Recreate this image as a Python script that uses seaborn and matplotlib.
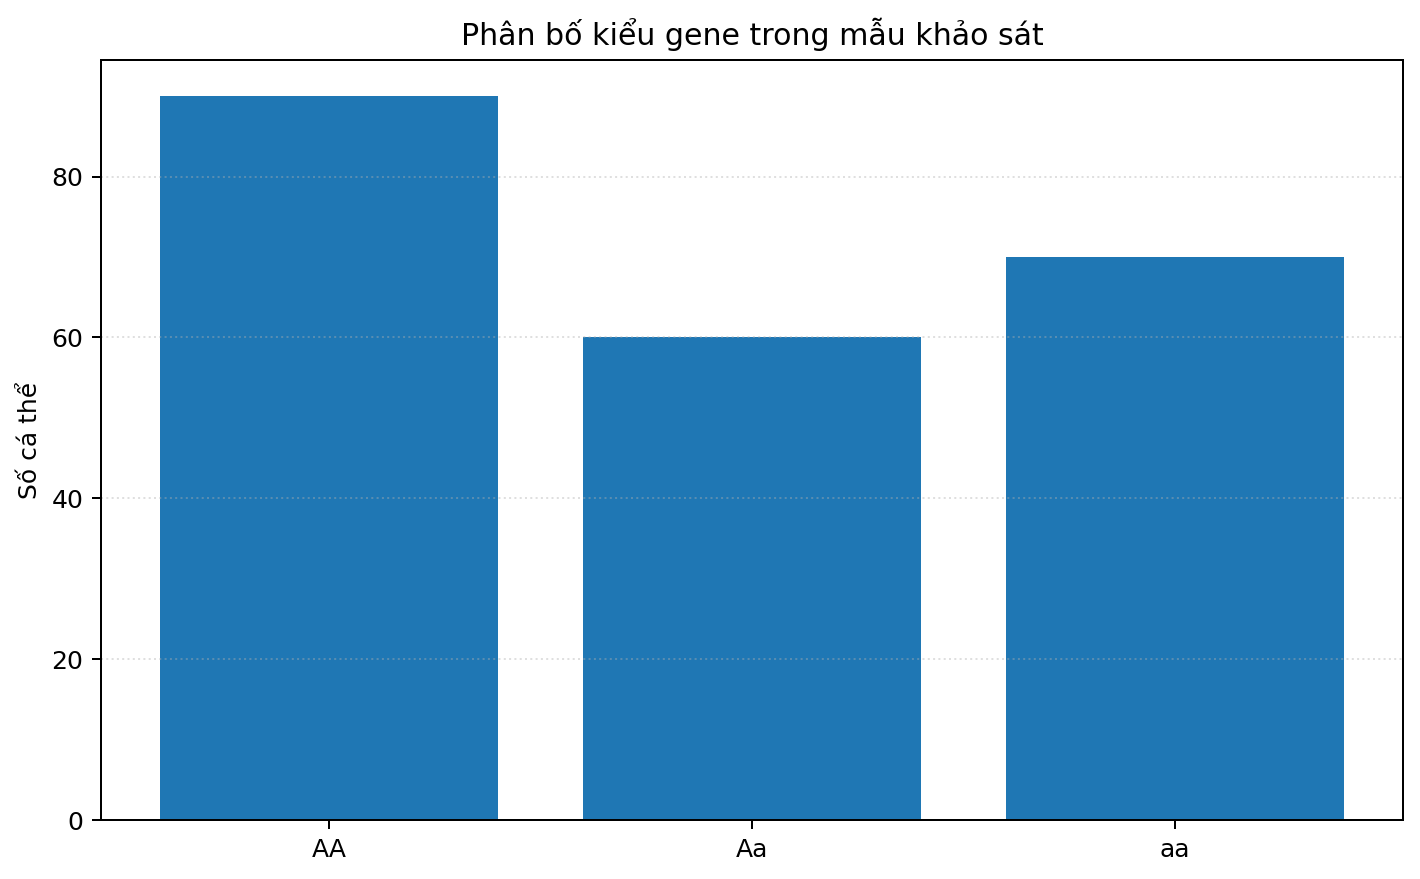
import matplotlib.pyplot as plt
import seaborn as sns
import pandas as pd

genotypes = ['AA', 'Aa', 'aa']
counts = [90, 60, 70]

df = pd.DataFrame({'genotype': genotypes, 'count': counts})

fig, ax = plt.subplots(1, 1, figsize=(1420 / 180, 879 / 180), dpi=180)
sns.barplot(data=df, x='genotype', y='count', color='#1f77b4',
            saturation=1, width=0.8, ax=ax)
ax.set_title('Phân bố kiểu gene trong mẫu khảo sát')
ax.set_xlabel('')
ax.set_ylabel('Số cá thể')
ax.grid(axis='y', linestyle=':', alpha=0.4)
ax.set_xlim(-0.54, 2.54)
ax.set_ylim(0, 94.5)

fig.subplots_adjust(left=0.0711, right=0.988, top=0.9317, bottom=0.0671)
plt.savefig('out.png', dpi=180)
